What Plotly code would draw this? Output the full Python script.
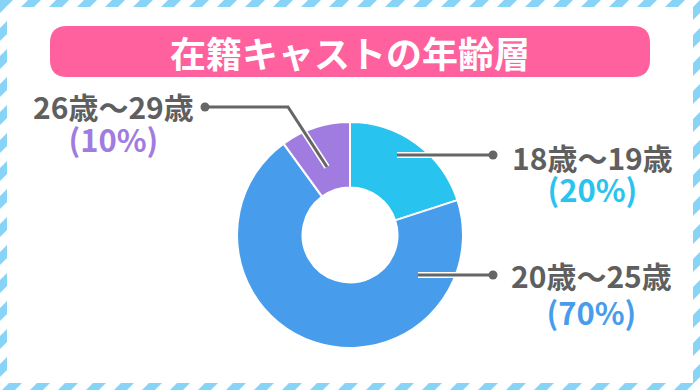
import plotly.graph_objects as go

# ---- data ----
categories = ["18歳～19歳", "20歳～25歳", "26歳～29歳"]
values = [20, 70, 10]
pct_labels = ["(20%)", "(70%)", "(10%)"]
title_text = "在籍キャストの年齢層"

W, H = 700, 390
colors = ["#29c3ef", "#479dec", "#a07ce0"]
GRAY = "#5f5f5f"
FONT = "Noto Sans CJK JP"


def px(x):
    return x / W


def py(y):
    return 1 - y / H


fig = go.Figure()

# donut centred at (350, 235) with radius 113 px
cx, cy, r = 350, 235, 113
fig.add_trace(go.Pie(
    labels=categories, values=values, sort=False, direction="clockwise",
    rotation=0, hole=0.42, textinfo="none", hoverinfo="label+percent",
    marker=dict(colors=colors, line=dict(color="white", width=2)),
    domain=dict(x=[px(cx - r), px(cx + r)], y=[py(cy + r), py(cy - r)]),
    showlegend=False,
))

shapes = []
# striped border background
period, sw = 28, 13
k = -H
while k < W + 10:
    path = (f"M {px(k)},{py(H)} L {px(k + sw)},{py(H)} "
            f"L {px(k + sw + H)},{py(0)} L {px(k + H)},{py(0)} Z")
    shapes.append(dict(type="path", path=path, xref="paper", yref="paper",
                       fillcolor="#88d4f7", line=dict(width=0), layer="below"))
    k += period
shapes.append(dict(type="rect", xref="paper", yref="paper",
                   x0=px(7), x1=px(693), y0=py(383), y1=py(7),
                   fillcolor="white", line=dict(width=0), layer="below"))


def rounded(x0, y0, x1, y1, rr):
    return (f"M {px(x0 + rr)},{py(y0)} L {px(x1 - rr)},{py(y0)} "
            f"Q {px(x1)},{py(y0)} {px(x1)},{py(y0 + rr)} "
            f"L {px(x1)},{py(y1 - rr)} Q {px(x1)},{py(y1)} {px(x1 - rr)},{py(y1)} "
            f"L {px(x0 + rr)},{py(y1)} Q {px(x0)},{py(y1)} {px(x0)},{py(y1 - rr)} "
            f"L {px(x0)},{py(y0 + rr)} Q {px(x0)},{py(y0)} {px(x0 + rr)},{py(y0)} Z")


shapes.append(dict(type="path", path=rounded(50, 26, 650, 77, 17),
                   xref="paper", yref="paper", fillcolor="#ff609e",
                   line=dict(width=0), layer="below"))

# leader lines
leaders = [
    [(397, 155), (493, 155)],
    [(418, 275), (493, 275)],
    [(327, 167), (288, 107), (205, 107)],
]
for pts in leaders:
    d = "M " + " L ".join(f"{px(x)},{py(y)}" for x, y in pts)
    shapes.append(dict(type="path", path=d, xref="paper", yref="paper",
                       line=dict(color="white", width=6), layer="above"))
for pts in leaders:
    d = "M " + " L ".join(f"{px(x)},{py(y)}" for x, y in pts)
    shapes.append(dict(type="path", path=d, xref="paper", yref="paper",
                       line=dict(color="#666666", width=3), layer="above"))
    ex, ey = pts[-1]
    shapes.append(dict(type="circle", xref="paper", yref="paper",
                       x0=px(ex - 4.5), x1=px(ex + 4.5), y0=py(ey + 4.5), y1=py(ey - 4.5),
                       fillcolor="#666666", line=dict(width=0), layer="above"))

annotations = [
    dict(text=f"<b>{title_text}</b>", x=px(350), y=py(52), xref="paper", yref="paper",
         showarrow=False, font=dict(family=FONT, size=36, color="white"),
         xanchor="center", yanchor="middle"),
]
# (centre x, top line centre y, bottom line centre y)
label_pos = [(592, 157, 189), (591, 275, 312), (113, 106, 139)]
for i, (lx, y1, y2) in enumerate(label_pos):
    spacing = (y2 - y1) / 1.3
    txt = (f"<span style='font-size:30px;color:{GRAY}'><b>{categories[i]}</b></span><br>"
           f"<span style='font-size:31px;color:{colors[i]}'><b>{pct_labels[i]}</b></span>")
    annotations.append(dict(text=txt, x=px(lx), y=py((y1 + y2) / 2),
                            xref="paper", yref="paper", showarrow=False,
                            xanchor="center", yanchor="middle", align="center",
                            font=dict(family=FONT, size=spacing, color=GRAY)))

fig.update_layout(width=W, height=H, margin=dict(l=0, r=0, t=0, b=0),
                  paper_bgcolor="white", plot_bgcolor="white",
                  shapes=shapes, annotations=annotations)
fig.write_html("out.html", config={"displayModeBar": False},
               post_script="document.body.style.margin='0';document.body.style.overflow='hidden';")
